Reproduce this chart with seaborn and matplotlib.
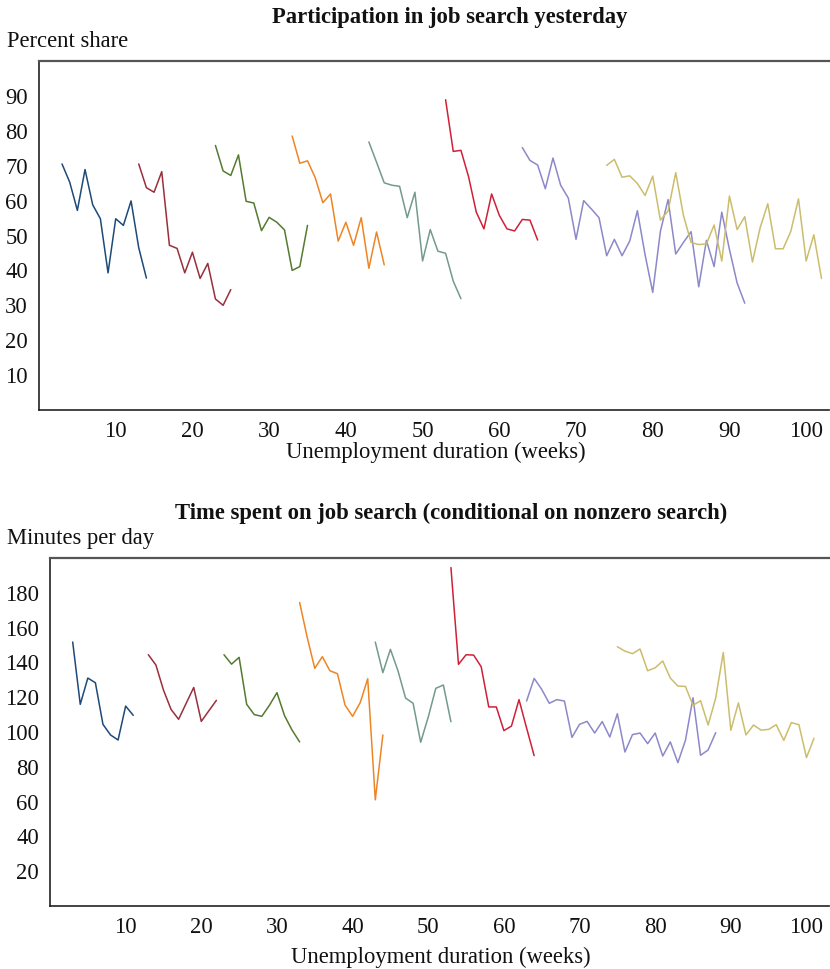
import matplotlib
matplotlib.use("Agg")
import matplotlib.pyplot as plt
import pandas as pd
import seaborn as sns

# --- participation in job search yesterday (percent share), by cohort
part_weeks = {
    "c1": list(range(3, 15)),
    "c2": list(range(13, 26)),
    "c3": list(range(23, 36)),
    "c4": list(range(33, 46)),
    "c5": list(range(43, 56)),
    "c6": list(range(53, 66)),
    "c7": list(range(63, 93)),
    "c8": list(range(74, 103)),
}
part_c1 = [70.5, 65.3, 57.2, 68.9, 58.8, 54.8, 39.3, 54.8, 52.9, 59.9, 46.5, 37.8]
part_c2 = [70.5, 63.7, 62.4, 68.3, 47.2, 46.3, 39.3, 45.2, 37.7, 42.0, 31.8, 30.0, 34.5]
part_c3 = [75.8, 68.5, 67.2, 73.1, 59.8, 59.3, 51.4, 55.2, 53.8, 51.6, 40.0, 41.1, 52.9]
part_c4 = [78.5, 70.7, 71.4, 66.6, 59.4, 61.9, 48.4, 53.8, 47.2, 55.1, 40.6, 51.0, 41.6]
part_c5 = [76.8, 71.0, 65.1, 64.4, 64.1, 55.1, 62.4, 42.7, 51.7, 45.5, 44.9, 36.9, 31.9]
part_c6 = [88.9, 74.1, 74.4, 66.8, 56.7, 51.9, 61.9, 55.8, 51.9, 51.3, 54.6, 54.4, 48.7]
part_c7 = [75.2, 71.5, 70.2, 63.4, 72.2, 64.4, 60.7, 48.9, 60.0, 57.6, 55.1, 44.2, 48.9,
           44.2, 48.4, 57.1, 44.5, 33.7, 51.2, 60.3, 44.7, 48.0, 51.1, 35.3, 48.6, 41.1,
           56.7, 46.0, 36.4, 30.6]
part_c8 = [70.1, 71.8, 66.7, 67.1, 64.9, 61.5, 67.0, 54.4, 57.0, 68.0, 55.8, 48.0, 47.4,
           47.6, 53.0, 42.7, 61.3, 51.7, 55.4, 42.4, 52.2, 59.1, 46.2, 46.2, 51.2, 60.5,
           42.7, 50.2, 37.7]

# --- time spent on job search (minutes per day), by cohort
time_weeks = {
    "c1": list(range(3, 12)),
    "c2": list(range(13, 23)),
    "c3": list(range(23, 34)),
    "c4": list(range(33, 45)),
    "c5": list(range(43, 54)),
    "c6": list(range(53, 65)),
    "c7": list(range(63, 89)),
    "c8": list(range(75, 102)),
}
time_c1 = [151.7, 115.9, 131.0, 128.3, 104.4, 98.3, 95.4, 114.9, 109.6]
time_c2 = [144.4, 138.5, 124.1, 113.0, 107.3, 116.5, 125.6, 106.1, 112.2, 118.2]
time_c3 = [144.4, 139.0, 142.9, 115.9, 110.0, 109.0, 115.3, 122.6, 109.4, 101.1, 94.3]
time_c4 = [174.4, 154.4, 136.6, 143.3, 135.2, 133.5, 115.5, 109.0, 116.8, 130.6, 61.0, 98.3]
time_c5 = [151.7, 134.1, 147.5, 135.2, 119.5, 116.5, 94.1, 108.6, 125.1, 127.0, 105.9]
time_c6 = [194.5, 138.9, 144.4, 144.2, 137.5, 114.4, 114.4, 100.8, 103.4, 118.6, 102.3, 86.4]
time_c7 = [117.8, 130.8, 124.5, 116.5, 118.6, 117.8, 96.9, 104.4, 106.1, 99.4, 106.0, 97.1,
           110.5, 88.5, 98.5, 99.4, 93.3, 99.4, 86.2, 94.3, 82.4, 95.2, 119.7, 86.6, 89.7,
           99.6]
time_c8 = [149.0, 146.5, 145.0, 147.7, 135.2, 136.9, 140.8, 131.0, 126.4, 126.2, 115.3,
           118.0, 104.0, 119.5, 145.7, 101.0, 116.7, 98.3, 104.0, 101.1, 101.5, 104.2, 95.2,
           105.4, 104.2, 85.3, 96.4]

cohort_colors = {
    "c1": "#1d4a78",
    "c2": "#9a2f3c",
    "c3": "#557a30",
    "c4": "#ee8525",
    "c5": "#739a8b",
    "c6": "#d02038",
    "c7": "#8c88c9",
    "c8": "#cbbd6d",
}

x_ticks = list(range(10, 101, 10))
part_yticks = list(range(10, 91, 10))
time_yticks = list(range(20, 181, 20))


def long_frame(weeks, series):
    rows = []
    for key, vals in series.items():
        for w, v in zip(weeks[key], vals):
            rows.append({"week": w, "value": v, "cohort": key})
    return pd.DataFrame(rows)


part_df = long_frame(part_weeks, {"c1": part_c1, "c2": part_c2, "c3": part_c3, "c4": part_c4,
                                  "c5": part_c5, "c6": part_c6, "c7": part_c7, "c8": part_c8})
time_df = long_frame(time_weeks, {"c1": time_c1, "c2": time_c2, "c3": time_c3, "c4": time_c4,
                                  "c5": time_c5, "c6": time_c6, "c7": time_c7, "c8": time_c8})

sns.set_style("white")
plt.rcParams["font.family"] = ["Liberation Serif", "DejaVu Serif"]
plt.rcParams["text.color"] = "#111111"
plt.rcParams["xtick.color"] = "#111111"
plt.rcParams["ytick.color"] = "#111111"
FS = 16.3

fig = plt.figure(figsize=(8.3, 9.69), dpi=100)
ax1 = fig.add_axes([39 / 830, 1 - 410 / 969, 1 - 39 / 830 - 0.001, (410 - 61) / 969])
ax2 = fig.add_axes([50 / 830, 1 - 906 / 969, 1 - 50 / 830 - 0.001, (906 - 558) / 969])

for ax, df, yt, ylim in [(ax1, part_df, part_yticks, (0, 100)),
                         (ax2, time_df, time_yticks, (0, 200))]:
    sns.lineplot(data=df, x="week", y="value", hue="cohort", palette=cohort_colors,
                 legend=False, linewidth=1.1, ax=ax, estimator=None, sort=True)
    ax.set_xlim(0, 103)
    ax.set_ylim(*ylim)
    ax.set_xticks(x_ticks)
    ax.set_yticks(yt)
    ax.set_xlabel("")
    ax.set_ylabel("")
    ax.tick_params(direction="in", length=6, width=1.0, labelsize=FS, pad=8)
    ax.spines["right"].set_visible(False)
    ax.spines["top"].set_color("#555555")
    ax.spines["top"].set_linewidth(1.6)
    for s in ("left", "bottom"):
        ax.spines[s].set_color("#222222")
        ax.spines[s].set_linewidth(1.2)

fig.text(450 / 830, 1 - 23 / 969, "Participation in job search yesterday",
         ha="center", va="baseline", fontsize=FS, fontweight="bold")
fig.text(7 / 830, 1 - 47 / 969, "Percent share", ha="left", va="baseline", fontsize=FS)
fig.text(436 / 830, 1 - 458 / 969, "Unemployment duration (weeks)",
         ha="center", va="baseline", fontsize=FS)

fig.text(451 / 830, 1 - 519 / 969, "Time spent on job search (conditional on nonzero search)",
         ha="center", va="baseline", fontsize=FS, fontweight="bold")
fig.text(7 / 830, 1 - 544 / 969, "Minutes per day", ha="left", va="baseline", fontsize=FS)
fig.text(441 / 830, 1 - 963 / 969, "Unemployment duration (weeks)",
         ha="center", va="baseline", fontsize=FS)

fig.savefig("out.png", dpi=100)
